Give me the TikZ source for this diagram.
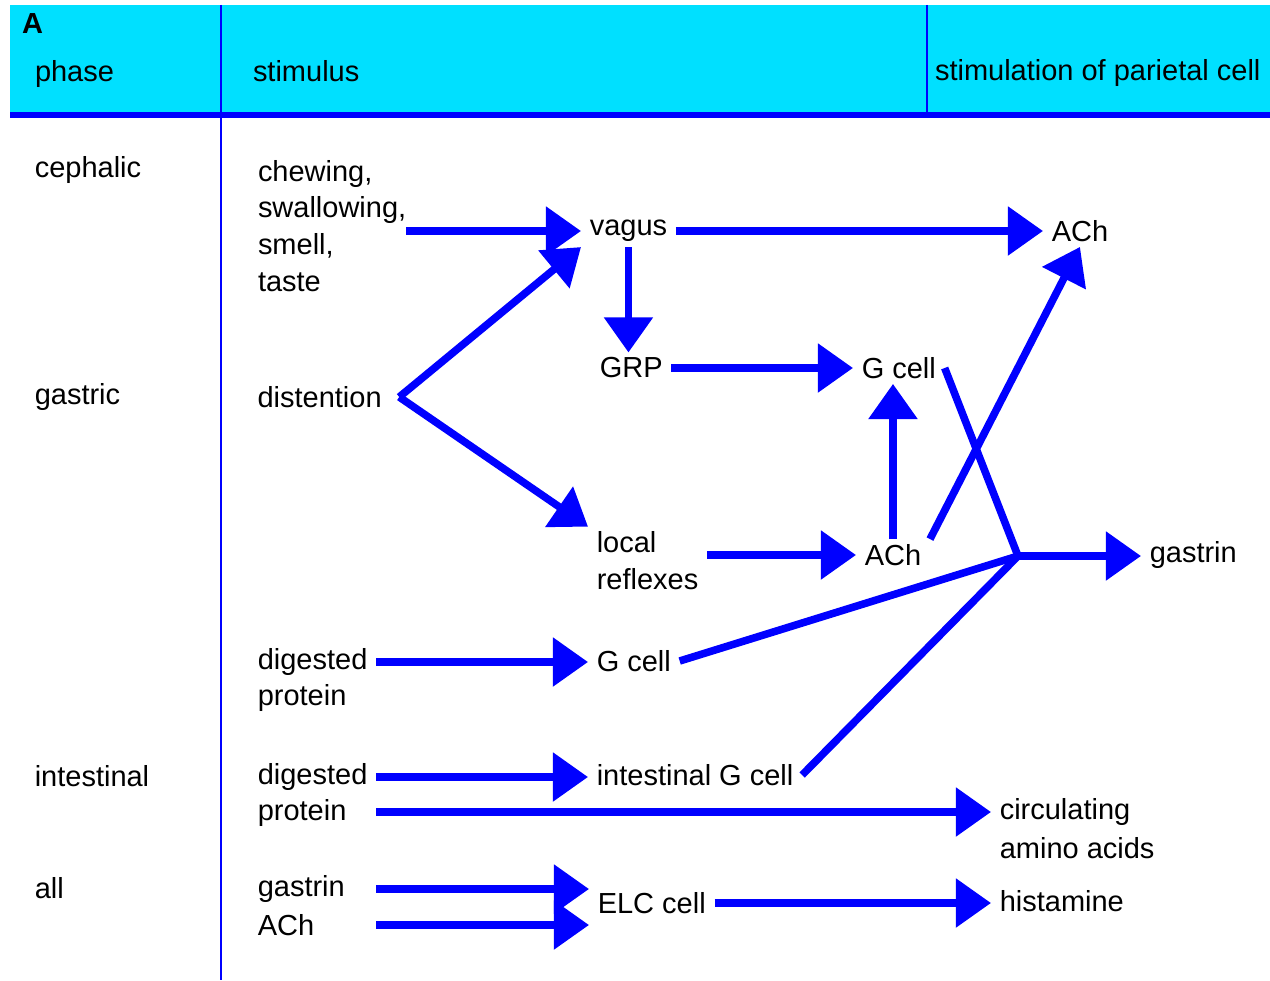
\documentclass[tikz,border=0pt]{standalone}
\usepackage{fontspec}
\setmainfont{Liberation Sans}
\usetikzlibrary{arrows.meta}

\definecolor{headcyan}{RGB}{0,224,255}
\definecolor{pathblue}{RGB}{0,0,255}

\tikzset{
    lbl/.style={anchor=west, inner xsep=5pt, inner ysep=3pt, outer sep=0pt,
        align=left, font=\fontsize{16.5}{21}\selectfont},
    arr/.style={pathblue, line width=4.3pt, -{Triangle[length=20pt, width=27pt]}},
    link/.style={pathblue, line width=4.3pt}
}

\begin{document}
\begin{tikzpicture}[x=0.02cm, y=-0.02cm]
            \useasboundingbox (0,0) rectangle (1270,980);

            % Header
            \fill[headcyan] (10,5) rectangle (1270,113);
            \draw[pathblue, line width=3.4pt] (10,115) -- (1270,115);
            \draw[pathblue, line width=1.1pt] (221,5) -- (221,980);
            \draw[pathblue, line width=1.1pt] (927,5) -- (927,113);

            \node[lbl, inner xsep=0pt, font=\fontsize{16.5}{21}\selectfont\bfseries] (panel) at (22,24) {A};
            \node[lbl, inner xsep=0pt] (hphase) at (35,74) {phase};
            \node[lbl, inner xsep=0pt] (hstim) at (253,71) {stimulus};
            \node[lbl, inner xsep=0pt] (hpar) at (935,73) {stimulation of parietal cell};

            % Phases
            \node[lbl] (cephalic) at (26,170) {cephalic};
            \node[lbl] (gastric) at (26,397) {gastric};
            \node[lbl] (intestinal) at (26,776) {intestinal};
            \node[lbl] (allph) at (26,888) {all};

            % Stimuli
            \node[lbl, inner xsep=0pt] (chew) at (258,226) {chewing,\\swallowing,\\smell,\\taste};
            \node[lbl, inner xsep=10pt] (dist) at (240,397) {distention};
            \node[lbl] (digA) at (249,662) {digested};
            \node[lbl] (protA) at (249,698) {protein};
            \node[lbl] (digB) at (249,777) {digested};
            \node[lbl] (protB) at (249,813) {protein};
            \node[lbl] (stgas) at (249,889) {gastrin};
            \node[lbl] (stach) at (249,925) {ACh};

            % Middle
            \node[lbl] (vagus) at (581,231) {vagus};
            \node[lbl] (grp) at (591,368) {GRP};
            \node[lbl] (local) at (588,561) {local\\reflexes};
            \node[lbl] (gcellC) at (588,661) {G cell};
            \node[lbl] (igcell) at (588,775) {intestinal G cell};
            \node[lbl] (elc) at (589,903) {ELC cell};

            % Right
            \node[lbl] (gcellB) at (853,368) {G cell};
            \node[lbl] (achB) at (856,555) {ACh};
            \node[lbl] (achT) at (1043,231) {ACh};
            \node[lbl] (gastrin) at (1141,555) {gastrin};
            \node[lbl] (circ) at (991,812) {circulating};
            \node[lbl] (amino) at (991,848) {amino acids};
            \node[lbl] (hist) at (991,901) {histamine};
            \coordinate (jn) at (1018,556);

            \draw[arr] (chew.east |- vagus.west) -- (vagus.west);
            \draw[arr] (vagus.east) -- (vagus.east -| achT.west);
            \draw[arr] (vagus.south) -- (vagus.south |- grp.north);
            \draw[arr] (dist.east) -- (vagus.south west);
            \draw[arr] (dist.east) -- (local.north west);
            \draw[arr] (grp.east) -- (grp.east -| gcellB.west);
            \draw[arr] (local.east |- achB.west) -- (achB.west);
            \draw[arr] (achB.north) -- (achB.north |- gcellB.south);
            \draw[arr] (achB.north east) -- (achT.south);

            % Gastrin release
            \draw[link] (gcellB.east) -- (jn);
            \draw[link] (gcellC.east) -- (jn);
            \draw[link] (igcell.east) -- (jn);
            \draw[arr] (jn) -- (jn -| gastrin.west);

            \draw[arr] (digA.east) -- (digA.east -| gcellC.west);
            \draw[arr] (digB.east) -- (digB.east -| igcell.west);
            \draw[arr] (digB.east |- circ.west) -- (circ.west);
            \draw[arr] (digB.east |- stgas.east) -- (stgas.east -| elc.west);
            \draw[arr] (digB.east |- stach.east) -- (stach.east -| elc.west);
            \draw[arr] (elc.east) -- (elc.east -| hist.west);
        \end{tikzpicture}
\end{document}
